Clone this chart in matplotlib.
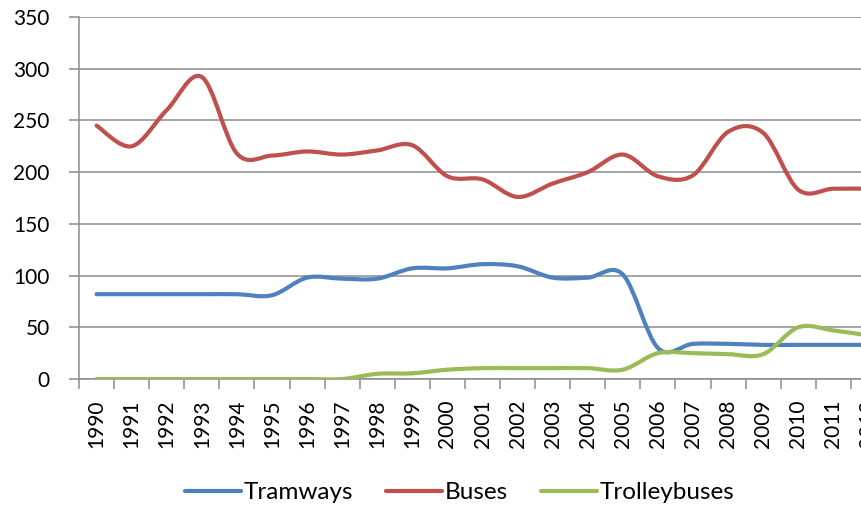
import numpy as np
import matplotlib
matplotlib.use("Agg")
import matplotlib.pyplot as plt
from matplotlib.path import Path
from matplotlib.patches import PathPatch
from matplotlib.lines import Line2D

# values
years = [str(y) for y in range(1990, 2013)]
tramways = [82, 82, 82, 82, 82, 81, 98, 97, 97, 107, 107, 111, 109, 98, 98, 101,
            30, 34, 34, 33, 33, 33, 33]
buses = [245, 225, 260, 292, 218, 216, 220, 217, 221, 226, 196, 193, 176, 189, 200, 217,
         196, 197, 239, 238, 183, 184, 184]
trolleybuses = [0, 0, 0, 0, 0, 0, 0, 0, 5, 5.5, 9, 10.5, 10.5, 10.5, 10.5, 9,
                25, 25, 24, 24, 50, 47, 42]

series = [("Tramways", tramways, "#4F81BD"),
          ("Buses", buses, "#C0504D"),
          ("Trolleybuses", trolleybuses, "#9BBB59")]

plt.rcParams['font.family'] = ['Lato', 'DejaVu Sans']


# Excel style smoothed line: Catmull-Rom segments turned into cubic Bezier curves
def smooth_path(xs, ys):
    pts = np.column_stack([xs, ys]).astype(float)
    p = np.vstack([pts[:1], pts, pts[-1:]])
    verts = [tuple(pts[0])]
    codes = [Path.MOVETO]
    for i in range(1, len(p) - 2):
        c1 = p[i] + (p[i + 1] - p[i - 1]) / 6.0
        c2 = p[i + 1] - (p[i + 2] - p[i]) / 6.0
        verts += [tuple(c1), tuple(c2), tuple(p[i + 1])]
        codes += [Path.CURVE4] * 3
    return Path(verts, codes)


fig = plt.figure(figsize=(8.61, 5.07), dpi=100)
# the plot area runs past the right edge of the picture, as in the reference
ax = fig.add_axes([79 / 861, 128 / 507, 807 / 861, 362 / 507])

x = np.arange(len(years))
handles = []
for name, vals, col in series:
    ax.add_patch(PathPatch(smooth_path(x, vals), fill=False, edgecolor=col,
                           lw=3.0, capstyle='round', joinstyle='round', zorder=3))
    handles.append(Line2D([], [], color=col, lw=3.0, solid_capstyle='round'))

ax.set_xlim(-0.5, len(years) - 0.5)
ax.set_ylim(0, 350)
ax.set_yticks(range(0, 351, 50))
ax.yaxis.grid(True, color='#8c8c8c', lw=1.1)
ax.set_axisbelow(True)

ax.set_xticks(x)
ax.set_xticklabels(years, rotation=90, fontsize=15)
ax.set_xticks(np.arange(-0.5, len(years)), minor=True)
ax.tick_params(axis='x', which='major', length=0, pad=14.5)
ax.tick_params(axis='x', which='minor', length=7, color='#8c8c8c', width=1.1)
ax.tick_params(axis='y', length=7, color='#8c8c8c', width=1.1, pad=14, labelsize=15)

for s in ['top', 'right']:
    ax.spines[s].set_visible(False)
for s in ['left', 'bottom']:
    ax.spines[s].set_color('#8c8c8c')
    ax.spines[s].set_linewidth(1.1)

fig.legend(handles, [s[0] for s in series], loc='center', ncol=3,
           bbox_to_anchor=(0.534, 0.028), frameon=False, fontsize=17.5,
           handlelength=2.3, handletextpad=0.12, columnspacing=1.35)

fig.savefig("out.png", dpi=100)
